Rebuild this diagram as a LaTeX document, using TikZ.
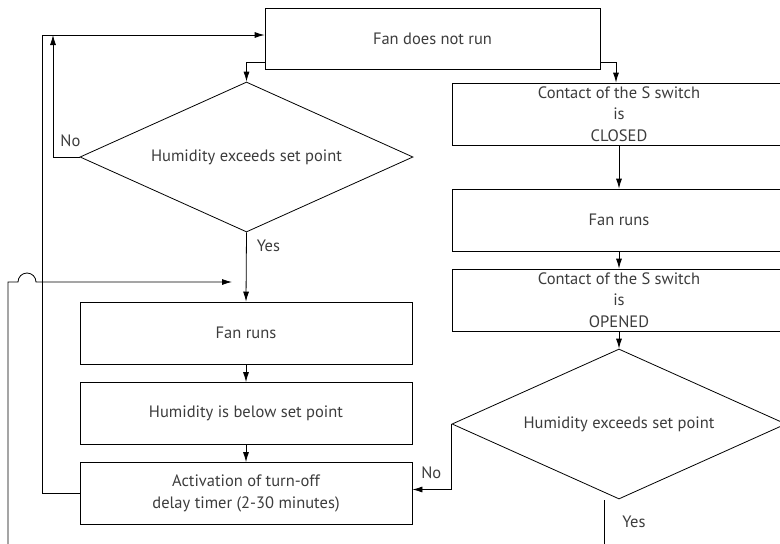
\documentclass[tikz,border=0pt]{standalone}
\usepackage{fontspec}
\setmainfont{PT Sans}
\usetikzlibrary{shapes.geometric,arrows.meta}
\definecolor{txtgray}{HTML}{3C3C3C}

\begin{document}
\begin{tikzpicture}[x=1pt,y=-1pt,
    font=\fontsize{16.5}{21.5}\selectfont,
    flowbox/.style={draw, rectangle, line width=0.8pt, text=txtgray, align=center, inner sep=0pt, minimum height=62pt},
    decision/.style={draw, diamond, shape aspect=2.22, line width=0.8pt, text=txtgray, inner sep=0pt, minimum height=150pt},
    arr/.style={-{Latex[length=10pt,width=6pt]}, line width=0.8pt},
    wire/.style={line width=0.8pt},
    lbl/.style={text=txtgray, inner sep=0pt}]
    \useasboundingbox (0,0) rectangle (780,544);

    % left column
    \node[flowbox, minimum width=335pt, minimum height=61pt] (notrun) at (432.5,38.5) {Fan does not run};
    \node[decision, minimum width=333pt] (humid1) at (246.5,157) {Humidity exceeds set point};
    \node[flowbox, minimum width=332pt] (fanruns) at (246,333) {Fan runs};
    \node[flowbox, minimum width=332pt] (below) at (246,413.5) {Humidity is below set point};
    \node[flowbox, minimum width=332pt] (timer) at (246,493.5) {Activation of turn-off\\delay timer (2-30 minutes)};

    % right column (runs off the page)
    \node[flowbox, minimum width=334pt] (closed) at (619,114) {Contact of the S switch\\is\\CLOSED};
    \node[flowbox, minimum width=334pt] (fanruns2) at (619,220) {Fan runs};
    \node[flowbox, minimum width=334pt] (opened) at (619,300) {Contact of the S switch\\is\\OPENED};
    \node[decision, minimum width=334pt] (humid2) at (619,424) {Humidity exceeds set point};

    % loose ends
    \coordinate (nojoin) at (53,35);
    \coordinate (loopL) at (42,35);
    \coordinate (backL) at (8,548);
    \coordinate (hopA) at (18,282);
    \coordinate (backin) at (232,282);
    \coordinate (yes2) at (604,500);
    \coordinate (yes2end) at (604,548);

    % connectors
    \draw[arr] ([yshift=7pt]notrun.south west) -| (humid1.north);
    \draw[arr] ([yshift=7pt]notrun.south east) -| ([xshift=-3pt]closed.north);
    \draw[arr] (humid1.west) -| node[pos=0.5, anchor=south west, lbl, xshift=7pt, yshift=10pt] {No} (nojoin);
    \draw[arr] (timer.west) -| (loopL) -- (loopL -| notrun.west);
    \draw[arr] (humid1.south) -- node[pos=0.19, anchor=west, lbl, xshift=10pt] {Yes} (fanruns.north);
    \draw[arr] (fanruns) -- (below);
    \draw[arr] (below) -- (timer);
    \draw[arr] (backL) |- (hopA) arc[start angle=180, end angle=0, radius=9pt] -- (backin);

    \draw[arr] (closed) -- (fanruns2);
    \draw[arr] (fanruns2) -- (opened);
    \draw[arr] (opened) -- (humid2);
    \draw[arr] (humid2.west) |- node[pos=0.5, anchor=south east, lbl, xshift=-10pt, yshift=10pt] {No} ([yshift=4pt]timer.east);
    \draw[wire] (yes2) -- node[pos=0.45, anchor=west, lbl, xshift=18pt] {Yes} (yes2end);
\end{tikzpicture}
\end{document}
